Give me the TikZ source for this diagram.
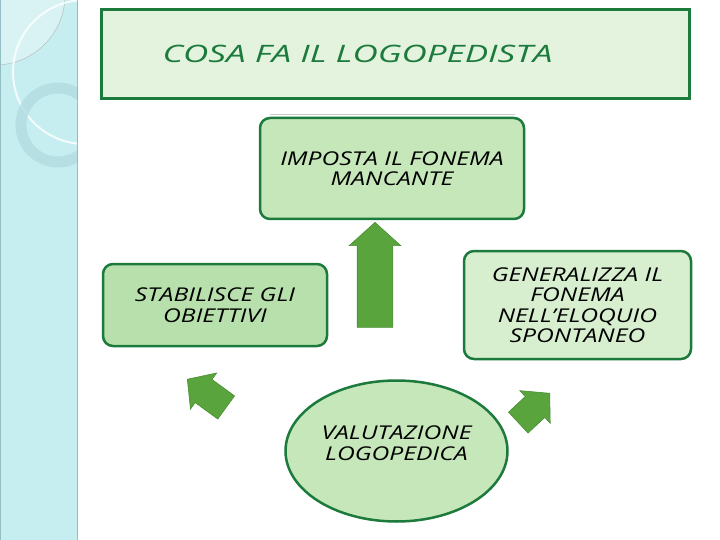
\documentclass[tikz,border=0pt]{standalone}
\usepackage{fontspec}
\setmainfont{Open Sans}
\newfontfamily\boxfont[FakeStretch=1.3]{Open Sans}
\newfontfamily\titlefont[FakeStretch=1.46]{Open Sans}
\usetikzlibrary{shapes.geometric,shapes.arrows}

\definecolor{sidecyan}{HTML}{C6EEF0}
\definecolor{sideedge}{HTML}{93BFC4}
\definecolor{ringblue}{HTML}{B2DCE2}
\definecolor{darkgreen}{HTML}{1C7A3C}
\definecolor{titlefill}{HTML}{E3F3DE}
\definecolor{boxa}{HTML}{C6E7B9}
\definecolor{boxb}{HTML}{B8E0AC}
\definecolor{boxc}{HTML}{D7EECF}
\definecolor{arrowgreen}{HTML}{5AA43D}
\definecolor{arrowedge}{HTML}{4A8E33}

\begin{document}
\begin{tikzpicture}[x=1pt,y=-1pt,font=\boxfont\itshape\fontsize{19}{20.5}\selectfont,
    box/.style={draw=darkgreen,line width=2.5pt,rounded corners=10pt,align=center,inner sep=0pt},
    blockarrow/.style={single arrow,draw=arrowedge,fill=arrowgreen,line width=0.6pt,anchor=tip,
      inner sep=0pt,text depth=0pt,single arrow head extend=8pt,single arrow tip angle=96}]
      \useasboundingbox (0,0) rectangle (720,540);
      % sidebar
      \fill[sidecyan] (0,0) rectangle (78,540);
      \begin{scope}
        \clip (0,0) rectangle (78,540);
        \fill[white,opacity=0.35] (-5,-5) circle (70);
        \draw[gray!60,line width=0.4pt] (-5,-5) circle (70);
        \draw[white,opacity=0.8,line width=2pt] (85,72) circle (72);
        \draw[ringblue,opacity=0.8,line width=11pt] (58,125) circle (37);
      \end{scope}
      \draw[sideedge,line width=1.2pt] (77.5,0) -- (77.5,540);
      \draw[sideedge,line width=0.8pt] (0.4,0) -- (0.4,540);
      % title
      \node (title) [draw=darkgreen,fill=titlefill,line width=3pt,minimum width=588,minimum height=89,
        text=darkgreen,font=\titlefont\itshape\fontsize{24}{26}\selectfont] at (395.5,54)
        {COSA FA IL LOGOPEDISTA\hspace*{76pt}};
      % boxes
      \draw[gray!40,line width=0.8pt] (270,114) -- (515,114);
      \node (imposta) [box,fill=boxa,minimum width=264,minimum height=101] at (392,168.5)
        {IMPOSTA IL FONEMA\\MANCANTE};
      \node (stabilisce) [box,fill=boxb,minimum width=224,minimum height=82] at (215,305)
        {STABILISCE GLI\\OBIETTIVI};
      \node (generalizza) [box,fill=boxc,minimum width=227,minimum height=108] at (577.5,305)
        {GENERALIZZA IL\\FONEMA\\NELL’ELOQUIO\\SPONTANEO};
      \node (valutazione) [ellipse,draw=darkgreen,fill=boxa,line width=2.5pt,inner sep=0pt,
        minimum width=222,minimum height=141,align=center] at (396.5,451)
        {VALUTAZIONE\\LOGOPEDICA\\[-11pt]\strut};
      % arrows
      \node (upar) [blockarrow,minimum height=105,text height=35pt,rotate=90] at (375,222) {};
      \node (leftar) [blockarrow,minimum height=48,text height=28pt,rotate=144] at (187,379) {};
      \node (rightar) [blockarrow,minimum height=43,text height=28pt,rotate=43] at (550,393) {};
    \end{tikzpicture}
\end{document}
